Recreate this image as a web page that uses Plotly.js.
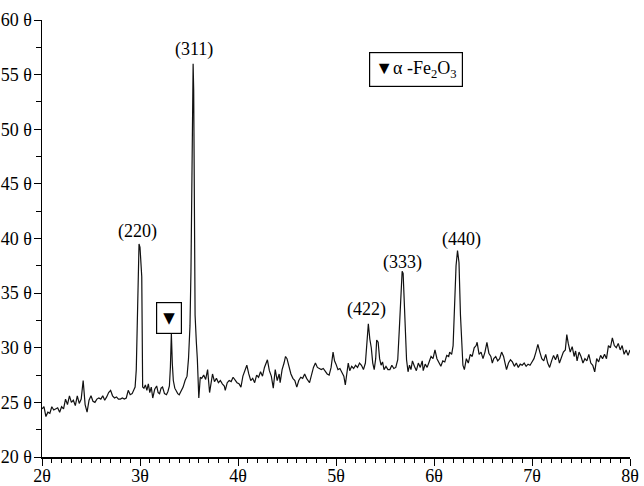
<!DOCTYPE html>
<html>
<head>
<meta charset="utf-8">
<script src="https://cdn.plot.ly/plotly-3.0.1.min.js"></script>
<style>
  body { margin: 0; background: #fff; }
  #plot { width: 644px; height: 486px; }
</style>
</head>
<body>
<div id="plot"></div>
<script>
var twoTheta = [
  20.0, 20.2, 20.4, 20.6, 20.8, 21.0, 21.2, 21.4, 21.6, 21.8,
  22.0, 22.2, 22.4, 22.6, 22.8, 23.0, 23.2, 23.4, 23.6, 23.8,
  24.0, 24.2, 24.4, 24.6, 24.8, 25.0, 25.2, 25.4, 25.6, 25.8,
  26.0, 26.2, 26.4, 26.6, 26.8, 27.0, 27.2, 27.4, 27.6, 27.8,
  28.0, 28.2, 28.4, 28.6, 28.8, 29.0, 29.2, 29.4, 29.5, 29.62,
  29.8, 29.9, 30.0, 30.1, 30.18, 30.27, 30.4, 30.55, 30.7, 30.85,
  31.0, 31.15, 31.3, 31.5, 31.7, 31.85, 32.0, 32.15, 32.3, 32.5,
  32.7, 32.85, 33.0, 33.1, 33.2, 33.3, 33.4, 33.55, 33.7, 33.85,
  34.0, 34.2, 34.4, 34.6, 34.8, 34.95, 35.1, 35.2, 35.3, 35.42,
  35.48, 35.55, 35.62, 35.75, 35.85, 36.0, 36.15, 36.3, 36.5, 36.7,
  36.9, 37.1, 37.25, 37.4, 37.6, 37.8, 38.0, 38.2, 38.4, 38.6,
  38.7, 38.9, 39.1, 39.3, 39.5, 39.7, 39.9, 40.1, 40.3, 40.5,
  40.7, 40.9, 41.1, 41.3, 41.5, 41.7, 41.9, 42.1, 42.3, 42.5,
  42.7, 42.9, 43.0, 43.2, 43.4, 43.6, 43.8, 44.0, 44.2, 44.3,
  44.5, 44.7, 44.85, 45.0, 45.2, 45.4, 45.6, 45.8, 46.0, 46.2,
  46.4, 46.6, 46.8, 47.0, 47.3, 47.5, 47.7, 47.9, 48.1, 48.3,
  48.5, 48.7, 48.9, 49.1, 49.3, 49.5, 49.7, 49.85, 50.0, 50.2,
  50.4, 50.6, 50.8, 50.95, 51.1, 51.25, 51.4, 51.6, 51.8, 52.0,
  52.2, 52.4, 52.6, 52.8, 53.0, 53.15, 53.3, 53.45, 53.6, 53.75,
  53.9, 54.05, 54.15, 54.3, 54.45, 54.6, 54.75, 54.9, 55.1, 55.3,
  55.5, 55.7, 55.9, 56.1, 56.3, 56.45, 56.6, 56.75, 56.85, 57.0,
  57.2, 57.35, 57.5, 57.65, 57.8, 58.0, 58.2, 58.4, 58.6, 58.8,
  58.9, 59.1, 59.3, 59.5, 59.7, 59.9, 60.1, 60.3, 60.5, 60.7,
  60.9, 61.1, 61.3, 61.5, 61.6, 61.8, 61.95, 62.1, 62.25, 62.4,
  62.55, 62.7, 62.83, 62.95, 63.1, 63.3, 63.5, 63.7, 63.9, 64.1,
  64.3, 64.4, 64.6, 64.8, 65.0, 65.2, 65.4, 65.6, 65.8, 65.95,
  66.1, 66.3, 66.5, 66.7, 66.9, 67.1, 67.25, 67.4, 67.6, 67.8,
  68.0, 68.2, 68.4, 68.6, 68.8, 69.0, 69.2, 69.4, 69.6, 69.8,
  70.0, 70.2, 70.4, 70.6, 70.8, 71.0, 71.2, 71.4, 71.6, 71.8,
  72.0, 72.2, 72.4, 72.6, 72.8, 73.0, 73.2, 73.4, 73.55, 73.7,
  73.9, 74.1, 74.3, 74.45, 74.6, 74.8, 75.0, 75.2, 75.4, 75.6,
  75.8, 76.0, 76.2, 76.4, 76.6, 76.8, 77.0, 77.2, 77.4, 77.6,
  77.8, 78.0, 78.2, 78.4, 78.6, 78.8, 79.0, 79.2, 79.4, 79.6,
  79.8, 80.0
];

var intensity = [
  24.4, 24.6, 23.7, 24.1, 24.0, 24.6, 24.3, 24.4, 24.5, 24.1,
  24.6, 24.4, 25.3, 24.8, 25.6, 25.0, 25.2, 24.7, 25.6, 24.9,
  25.3, 27.0, 24.8, 24.1, 25.2, 25.6, 25.1, 25.0, 25.3, 25.4,
  25.3, 25.6, 25.2, 25.5, 25.9, 26.1, 25.6, 25.4, 25.5, 25.3,
  25.3, 25.4, 25.3, 25.4, 26.1, 25.7, 25.8, 26.2, 26.4, 28.0,
  36.0, 39.5, 39.2, 38.0, 36.5, 26.4, 26.3, 26.6, 26.1, 26.7,
  25.9, 26.4, 25.4, 26.2, 26.5, 25.9, 25.8, 26.3, 26.4, 25.8,
  25.7, 26.0, 26.5, 28.2, 31.3, 28.5, 27.0, 26.3, 26.0, 25.8,
  25.7, 26.1, 26.4, 27.0, 27.4, 29.0, 32.0, 37.0, 45.5, 56.0,
  53.5, 46.0, 33.0, 30.5, 29.0, 25.4, 27.3, 27.2, 27.5, 27.1,
  28.0, 25.9, 27.0, 27.6, 26.9, 27.2, 26.8, 27.0, 26.7, 26.5,
  26.1, 26.8, 27.0, 26.9, 27.3, 27.0, 26.8, 26.7, 26.4, 27.4,
  28.0, 28.4, 27.6, 27.0, 27.2, 26.8, 27.5, 27.3, 27.8, 27.4,
  28.2, 28.8, 28.9, 27.9, 27.4, 26.3, 28.0, 27.0, 27.6, 26.8,
  28.0, 28.6, 29.2, 29.0, 28.2, 27.6, 27.2, 27.0, 26.4, 27.0,
  27.3, 27.2, 27.6, 27.2, 26.8, 27.5, 28.2, 28.6, 28.2, 28.1,
  28.0, 28.1, 27.8, 27.6, 27.5, 28.2, 29.6, 28.8, 28.5, 28.0,
  28.1, 27.8, 27.4, 26.6, 27.8, 28.6, 27.9, 28.3, 28.1, 28.4,
  28.2, 28.6, 28.4, 28.0, 28.6, 30.5, 32.2, 30.8, 30.0, 28.6,
  28.0, 29.0, 30.7, 30.5, 29.0, 28.4, 28.7, 28.0, 28.3, 28.0,
  28.0, 28.4, 28.1, 28.2, 28.9, 31.5, 34.2, 37.0, 36.8, 33.2,
  28.9, 27.8, 28.4, 28.0, 28.8, 28.3, 27.9, 28.6, 28.2, 28.8,
  27.9, 28.5, 28.2, 28.7, 29.2, 29.0, 29.8, 29.0, 28.6, 28.3,
  28.8, 28.7, 29.3, 29.2, 29.6, 29.4, 30.2, 34.4, 37.5, 38.9,
  37.8, 33.0, 31.0, 28.4, 28.0, 29.0, 28.6, 29.4, 29.2, 30.0,
  30.2, 30.5, 29.4, 29.6, 29.0, 29.6, 30.5, 29.5, 29.2, 28.6,
  29.0, 29.2, 28.8, 29.0, 29.6, 29.2, 28.6, 28.0, 28.6, 28.9,
  28.7, 28.3, 28.6, 28.2, 28.5, 28.4, 28.6, 28.3, 28.5, 28.4,
  28.7, 29.0, 29.6, 30.3, 29.6, 29.0, 28.8, 29.4, 28.6, 28.2,
  28.8, 29.3, 28.9, 29.4, 28.6, 29.2, 29.6, 29.8, 31.2, 30.4,
  29.6, 30.1, 29.2, 29.7, 28.8, 29.6, 29.2, 28.6, 29.0, 28.8,
  29.4, 28.6, 28.4, 27.8, 29.0, 28.7, 29.3, 29.0, 29.4, 29.0,
  30.2, 30.0, 30.9, 30.2, 30.0, 30.4, 29.8, 30.2, 29.4, 29.8,
  29.3, 29.8
];

// tick labels as printed on the original figure
var yTickVals = [20, 25, 30, 35, 40, 45, 50, 55, 60];
var yTickText = ["20 θ", "25 θ", "30 θ", "35 θ", "40 θ", "45 θ", "50 θ", "55 θ", "60 θ"];
var xTickVals = [20, 30, 40, 50, 60, 70, 80];
var xTickText = ["2θ", "3θ", "4θ", "5θ", "6θ", "7θ", "8θ"];

// peak labels (hkl) and where they sit
var peakLabels = ["(220)", "(311)", "(422)", "(333)", "(440)"];
var peakX = [29.7, 35.5, 53.1, 56.8, 62.8];
var peakY = [40.6, 57.3, 33.5, 37.8, 39.9];

var serif = "Liberation Serif, serif";

var trace = {
  x: twoTheta,
  y: intensity,
  mode: "lines",
  type: "scatter",
  line: { color: "#111", width: 1.2 },
  hoverinfo: "skip"
};

var annotations = peakLabels.map(function (t, i) {
  return {
    x: peakX[i], y: peakY[i], xref: "x", yref: "y",
    text: t, showarrow: false,
    font: { family: serif, size: 18, color: "#000" }
  };
});

// boxed marker over the hematite peak
annotations.push({
  x: 32.96, y: 32.7, xref: "x", yref: "y",
  text: "▼", showarrow: false,
  font: { family: "DejaVu Sans", size: 15, color: "#000" },
  bordercolor: "#000", borderwidth: 1.2, borderpad: 6, bgcolor: "#fff"
});

// legend box
annotations.push({
  x: 58.2, y: 55.5, xref: "x", yref: "y",
  text: "▼α -Fe<sub>2</sub>O<sub>3</sub>", showarrow: false,
  font: { family: serif, size: 18, color: "#000" },
  bordercolor: "#000", borderwidth: 1.2, borderpad: 5, bgcolor: "#fff"
});

var layout = {
  width: 644,
  height: 486,
  margin: { l: 42, r: 14, t: 20, b: 29 },
  paper_bgcolor: "#fff",
  plot_bgcolor: "#fff",
  showlegend: false,
  font: { family: serif, size: 18, color: "#000" },
  xaxis: {
    range: [20, 80],
    showgrid: false,
    zeroline: false,
    showline: true,
    linecolor: "#000",
    linewidth: 1.5,
    ticks: "outside",
    ticklen: 7,
    tickwidth: 1,
    tickcolor: "#000",
    tickvals: xTickVals,
    ticktext: xTickText,
    ticklabelstandoff: -5,
    tickfont: { family: serif, size: 18, color: "#000" },
    minor: { dtick: 1, ticks: "outside", ticklen: 4, tickcolor: "#000", showgrid: false }
  },
  yaxis: {
    range: [20, 60],
    showgrid: false,
    zeroline: false,
    showline: true,
    linecolor: "#000",
    linewidth: 1.5,
    ticks: "outside",
    ticklen: 7,
    tickwidth: 1,
    tickcolor: "#000",
    tickvals: yTickVals,
    ticktext: yTickText,
    ticklabelstandoff: -2,
    tickfont: { family: serif, size: 18, color: "#000" },
    minor: { dtick: 2.5, ticks: "outside", ticklen: 5, tickcolor: "#000", showgrid: false }
  },
  annotations: annotations
};

Plotly.newPlot("plot", [trace], layout, { displayModeBar: false, staticPlot: true });
</script>
</body>
</html>
